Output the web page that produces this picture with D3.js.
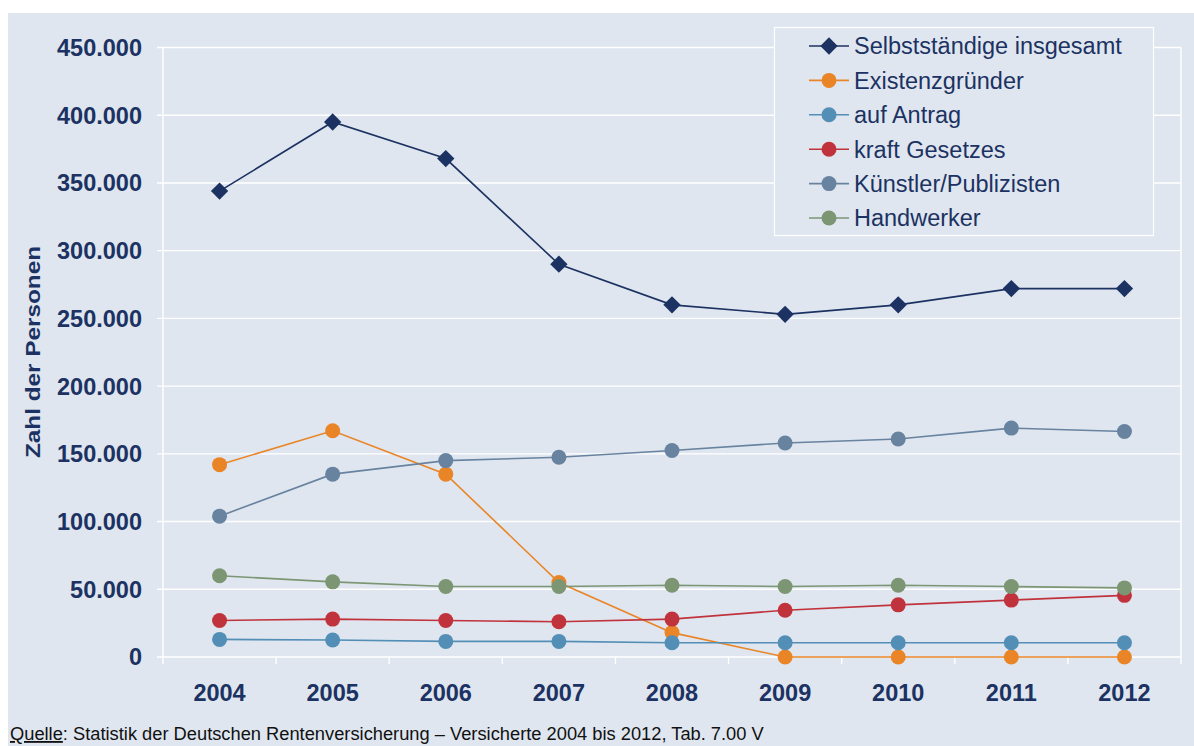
<!DOCTYPE html>
<html>
<head>
<meta charset="utf-8">
<script src="https://cdn.jsdelivr.net/npm/d3@7"></script>
<style>
  html, body { margin: 0; padding: 0; background: #ffffff; }
  svg { display: block; }
</style>
</head>
<body>
<svg id="chart" width="1194" height="746"></svg>
<script>
// Versicherte Selbstständige in der Rentenversicherung, 2004–2012
const years = ["2004", "2005", "2006", "2007", "2008", "2009", "2010", "2011", "2012"];
const seriesNames = ["Selbstständige insgesamt", "Existenzgründer", "auf Antrag", "kraft Gesetzes", "Künstler/Publizisten", "Handwerker"];
const selbststaendige = [344000, 395000, 368000, 290000, 260000, 253000, 260000, 272000, 272000];
const existenzgruender = [142000, 167000, 135000, 55000, 18000, 0, 0, 0, 0];
const aufAntrag = [13000, 12500, 11500, 11500, 10500, 10500, 10500, 10500, 10500];
const kraftGesetzes = [27000, 28000, 27000, 26000, 28000, 34500, 38500, 42000, 45500];
const kuenstler = [104000, 135000, 145000, 147500, 152500, 158000, 161000, 169000, 166500];
const handwerker = [60000, 55500, 52000, 52000, 53000, 52000, 53000, 52000, 51000];
const yTicks = [0, 50000, 100000, 150000, 200000, 250000, 300000, 350000, 400000, 450000];

const seriesValues = [selbststaendige, existenzgruender, aufAntrag, kraftGesetzes, kuenstler, handwerker];
const seriesColors = ["#1c3262", "#e98526", "#538eb6", "#c1333c", "#6883a0", "#7c9674"];
const seriesMarkers = ["diamond", "circle", "circle", "circle", "circle", "circle"];

const navy = "#1c3262";
const bg = "#dfe6ef";
const de = d3.formatLocale({ decimal: ",", thousands: ".", grouping: [3], currency: ["", " €"] });
const fmt = de.format(",d");

const svg = d3.select("#chart");

// chart background
svg.append("rect").attr("x", 8).attr("y", 13).attr("width", 1186).attr("height", 733).attr("fill", bg);

const plotLeft = 163, plotRight = 1181, plotTop = 47.5, plotBottom = 657;
const x = d3.scaleBand().domain(years).range([plotLeft, plotRight]);
const y = d3.scaleLinear().domain([0, 450000]).range([plotBottom, plotTop]);
const cx = d => x(d) + x.bandwidth() / 2;

// horizontal grid lines
svg.append("g").selectAll("line").data(yTicks).join("line")
  .attr("x1", plotLeft - 6).attr("x2", plotRight)
  .attr("y1", d => y(d)).attr("y2", d => y(d))
  .attr("stroke", "#ffffff").attr("stroke-width", 1.4);

// y axis, right border and category ticks
svg.append("line").attr("x1", plotLeft).attr("x2", plotLeft).attr("y1", plotTop).attr("y2", plotBottom + 7)
  .attr("stroke", "#ffffff").attr("stroke-width", 1.4);
svg.append("line").attr("x1", plotRight).attr("x2", plotRight).attr("y1", plotTop).attr("y2", plotBottom + 7)
  .attr("stroke", "#ffffff").attr("stroke-width", 1.4);
svg.append("g").selectAll("line").data(years.slice(1)).join("line")
  .attr("x1", d => x(d)).attr("x2", d => x(d))
  .attr("y1", plotBottom).attr("y2", plotBottom + 7)
  .attr("stroke", "#ffffff").attr("stroke-width", 1.4);

// y tick labels
svg.append("g").selectAll("text").data(yTicks).join("text")
  .attr("x", 142).attr("y", d => y(d))
  .attr("dy", "0.36em")
  .attr("text-anchor", "end")
  .attr("font-family", "Liberation Sans, Arial, sans-serif")
  .attr("font-weight", "bold").attr("font-size", 23.5)
  .attr("fill", navy)
  .text(d => fmt(d));

// x tick labels
svg.append("g").selectAll("text").data(years).join("text")
  .attr("x", d => cx(d)).attr("y", 701)
  .attr("text-anchor", "middle")
  .attr("font-family", "Liberation Sans, Arial, sans-serif")
  .attr("font-weight", "bold").attr("font-size", 23.5)
  .attr("fill", navy)
  .text(d => d);

// y axis title
svg.append("text")
  .attr("transform", "translate(40,352) rotate(-90)")
  .attr("text-anchor", "middle")
  .attr("font-family", "Liberation Sans, Arial, sans-serif")
  .attr("font-weight", "bold").attr("font-size", 21)
  .attr("textLength", 212).attr("lengthAdjust", "spacingAndGlyphs")
  .attr("fill", navy)
  .text("Zahl der Personen");

// series lines and markers
const line = d3.line().x((d, i) => cx(years[i])).y(d => y(d));
const diamond = d3.symbol().type(d3.symbolSquare).size(150);

function drawMarker(g, type, color) {
  if (type === "diamond") {
    g.append("path").attr("d", diamond()).attr("transform", "rotate(45)").attr("fill", color);
  } else {
    g.append("circle").attr("r", 7.5).attr("fill", color);
  }
}

seriesValues.forEach((vals, si) => {
  const g = svg.append("g");
  g.append("path").datum(vals).attr("d", line)
    .attr("fill", "none").attr("stroke", seriesColors[si]).attr("stroke-width", 1.6);
  vals.forEach((v, i) => {
    const m = g.append("g").attr("transform", `translate(${cx(years[i])},${y(v)})`);
    drawMarker(m, seriesMarkers[si], seriesColors[si]);
  });
});

// legend
const legend = svg.append("g");
legend.append("rect").attr("x", 774.5).attr("y", 27.5).attr("width", 379).attr("height", 208)
  .attr("fill", bg).attr("stroke", "#ffffff").attr("stroke-width", 1.2);
seriesNames.forEach((name, i) => {
  const ly = 46 + i * 34.4;
  const row = legend.append("g").attr("transform", `translate(0,${ly})`);
  row.append("line").attr("x1", 809).attr("x2", 849).attr("y1", 0).attr("y2", 0)
    .attr("stroke", seriesColors[i]).attr("stroke-width", 1.6);
  const m = row.append("g").attr("transform", "translate(829,0)");
  drawMarker(m, seriesMarkers[i], seriesColors[i]);
  row.append("text").attr("x", 854).attr("y", 0).attr("dy", "0.36em")
    .attr("font-family", "Liberation Sans, Arial, sans-serif")
    .attr("font-size", 23.5).attr("fill", navy)
    .text(name);
});

// source note
const src = svg.append("text").attr("x", 10).attr("y", 740)
  .attr("font-family", "Liberation Sans Narrow, Arial Narrow, Liberation Sans, sans-serif")
  .attr("font-size", 18.3).attr("fill", "#111111");
src.append("tspan").attr("text-decoration", "underline").text("Quelle");
src.append("tspan").text(": Statistik der Deutschen Rentenversicherung – Versicherte 2004 bis 2012, Tab. 7.00 V");
</script>
</body>
</html>
